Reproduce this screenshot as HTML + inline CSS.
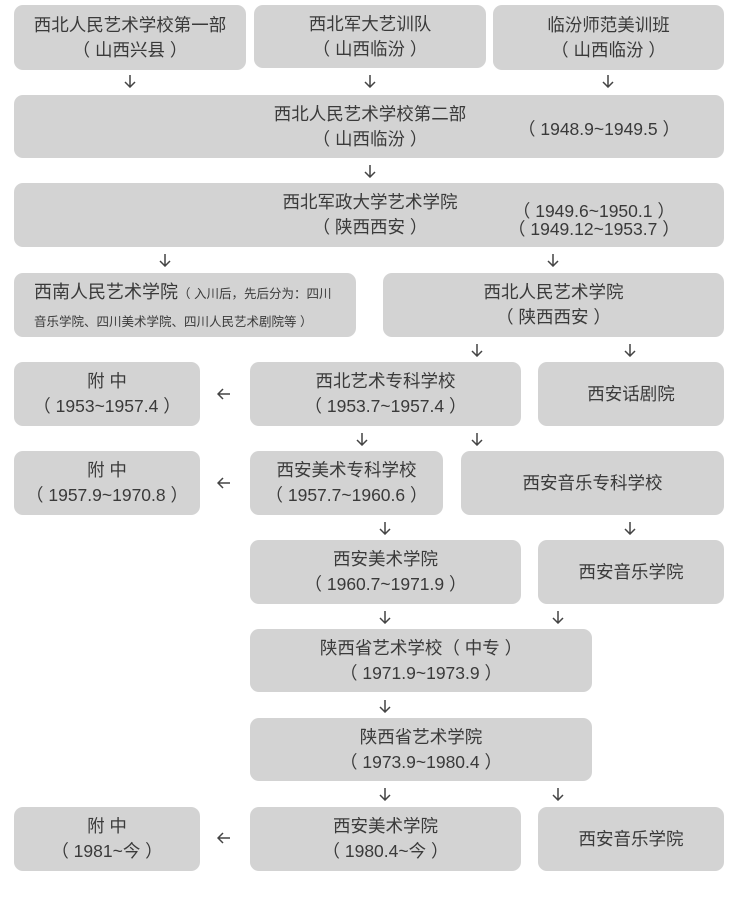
<!DOCTYPE html>
<html><head><meta charset="utf-8"><style>
body{margin:0;width:742px;height:907px;background:#fff;position:relative;overflow:hidden;font-family:"Liberation Sans","Noto Sans CJK SC",sans-serif;color:#3a3a3a}
.b{position:absolute;background:#d3d3d3;border-radius:9px;display:flex;flex-direction:column;justify-content:center;align-items:center;font-size:17.5px;line-height:25px;text-align:center;box-sizing:border-box;white-space:pre}
.t{position:absolute;font-size:17.5px;line-height:18px;white-space:pre}
.a{position:absolute;width:14px;height:14px;transform:translate(-50%,-50%)}
</style></head><body>
<svg width="0" height="0" style="position:absolute"><defs>
<symbol id="d" viewBox="0 0 14 14"><path d="M7 1V13M2 8L7 13L12 8" fill="none" stroke="#444" stroke-width="1.5"/></symbol>
<symbol id="l" viewBox="0 0 14 14"><path d="M1 7H13M6 2L1 7L6 12" fill="none" stroke="#444" stroke-width="1.5"/></symbol>
</defs></svg>
<div class="b" style="left:14px;top:5px;width:232px;height:65px">西北人民艺术学校第一部
（ 山西兴县 ）</div>
<div class="b" style="left:254px;top:5px;width:232px;height:63px">西北军大艺训队
（ 山西临汾 ）</div>
<div class="b" style="left:493px;top:5px;width:231px;height:65px">临汾师范美训班
（ 山西临汾 ）</div>
<svg class="a" style="left:130px;top:81px"><use href="#d"/></svg><svg class="a" style="left:370px;top:81px"><use href="#d"/></svg><svg class="a" style="left:608px;top:81px"><use href="#d"/></svg>

<div class="b" style="left:14px;top:95px;width:710px;height:63px"></div>
<div class="t" style="left:250px;top:102px;width:240px;text-align:center;line-height:25px">西北人民艺术学校第二部
（ 山西临汾 ）</div>
<div class="t" style="left:518px;top:120px">（ 1948.9~1949.5 ）</div>
<svg class="a" style="left:370px;top:171px"><use href="#d"/></svg>

<div class="b" style="left:14px;top:183px;width:710px;height:64px"></div>
<div class="t" style="left:250px;top:190px;width:240px;text-align:center;line-height:25px">西北军政大学艺术学院
（ 陕西西安 ）</div>
<div class="t" style="left:508px;top:202px;line-height:18px;text-align:center">（ 1949.6~1950.1 ）
（ 1949.12~1953.7 ）</div>
<svg class="a" style="left:165px;top:260px"><use href="#d"/></svg><svg class="a" style="left:553px;top:260px"><use href="#d"/></svg>

<div class="b" style="left:14px;top:273px;width:342px;height:64px;padding-left:20px;line-height:26px;text-align:left;display:block;padding-top:6px"><span style="font-size:18px">西南人民艺术学院</span><span style="font-size:12.5px">（ 入川后，先后分为：四川</span>
<span style="font-size:12.5px">音乐学院、四川美术学院、四川人民艺术剧院等 ）</span></div>
<div class="b" style="left:383px;top:273px;width:341px;height:64px">西北人民艺术学院
（ 陕西西安 ）</div>
<svg class="a" style="left:477px;top:350px"><use href="#d"/></svg><svg class="a" style="left:630px;top:350px"><use href="#d"/></svg>

<div class="b" style="left:14px;top:362px;width:186px;height:64px">附 中
（ 1953~1957.4 ）</div>
<svg class="a" style="left:224px;top:394px"><use href="#l"/></svg>
<div class="b" style="left:250px;top:362px;width:271px;height:64px">西北艺术专科学校
（ 1953.7~1957.4 ）</div>
<div class="b" style="left:538px;top:362px;width:186px;height:64px">西安话剧院</div>
<svg class="a" style="left:362px;top:439px"><use href="#d"/></svg><svg class="a" style="left:477px;top:439px"><use href="#d"/></svg>

<div class="b" style="left:14px;top:451px;width:186px;height:64px">附 中
（ 1957.9~1970.8 ）</div>
<svg class="a" style="left:224px;top:483px"><use href="#l"/></svg>
<div class="b" style="left:250px;top:451px;width:193px;height:64px">西安美术专科学校
（ 1957.7~1960.6 ）</div>
<div class="b" style="left:461px;top:451px;width:263px;height:64px">西安音乐专科学校</div>
<svg class="a" style="left:385px;top:528px"><use href="#d"/></svg><svg class="a" style="left:630px;top:528px"><use href="#d"/></svg>

<div class="b" style="left:250px;top:540px;width:271px;height:64px">西安美术学院
（ 1960.7~1971.9 ）</div>
<div class="b" style="left:538px;top:540px;width:186px;height:64px">西安音乐学院</div>
<svg class="a" style="left:385px;top:617px"><use href="#d"/></svg><svg class="a" style="left:558px;top:617px"><use href="#d"/></svg>

<div class="b" style="left:250px;top:629px;width:342px;height:63px">陕西省艺术学校（ 中专 ）
（ 1971.9~1973.9 ）</div>
<svg class="a" style="left:385px;top:706px"><use href="#d"/></svg>
<div class="b" style="left:250px;top:718px;width:342px;height:63px">陕西省艺术学院
（ 1973.9~1980.4 ）</div>
<svg class="a" style="left:385px;top:794px"><use href="#d"/></svg><svg class="a" style="left:558px;top:794px"><use href="#d"/></svg>

<div class="b" style="left:14px;top:807px;width:186px;height:64px">附 中
（ 1981~今 ）</div>
<svg class="a" style="left:224px;top:838px"><use href="#l"/></svg>
<div class="b" style="left:250px;top:807px;width:271px;height:64px">西安美术学院
（ 1980.4~今 ）</div>
<div class="b" style="left:538px;top:807px;width:186px;height:64px">西安音乐学院</div>
</body></html>
